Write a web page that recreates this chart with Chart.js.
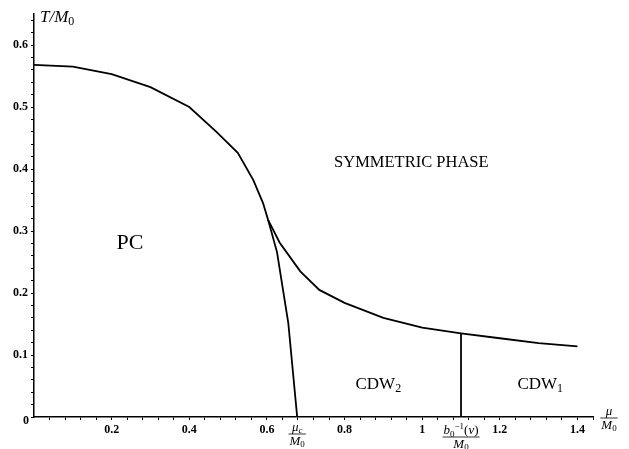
<!DOCTYPE html>
<html>
<head>
<meta charset="utf-8">
<script src="https://cdn.jsdelivr.net/npm/chart.js@4.4.0/dist/chart.umd.min.js"></script>
<style>
  html, body { margin: 0; padding: 0; background: #fff; }
  #wrap { width: 629px; height: 449px; }
</style>
</head>
<body>
<div id="wrap"><canvas id="phase" width="629" height="449"></canvas></div>
<script>
// Phase boundary: PC / symmetric, then symmetric / CDW
const upperMu = [0, 0.1, 0.2, 0.3, 0.4, 0.47, 0.525, 0.565, 0.59, 0.603, 0.633, 0.686, 0.735, 0.8, 0.9, 1.0, 1.1, 1.2, 1.3, 1.4];
const upperT  = [0.568, 0.565, 0.553, 0.532, 0.5, 0.46, 0.426, 0.382, 0.345, 0.318, 0.281, 0.235, 0.205, 0.184, 0.16, 0.144, 0.135, 0.127, 0.119, 0.114];
// PC / CDW2 boundary
const lowerMu = [0.603, 0.626, 0.655, 0.678];
const lowerT  = [0.318, 0.266, 0.152, 0];
// CDW2 / CDW1 boundary
const splitMu = [1.1, 1.1];
const splitT  = [0, 0.135];

const xMajor = [0.2, 0.4, 0.6, 0.8, 1, 1.2, 1.4];
const yMajor = [0.1, 0.2, 0.3, 0.4, 0.5, 0.6];

const pts = (xs, ys) => xs.map((x, i) => ({ x: x, y: ys[i] }));
const isMajor = (v, list) => list.some(m => Math.abs(m - v) < 1e-6);
const fmt = v => (Math.round(v * 10) / 10).toString();

const xTicks = [];
for (let i = 1; i <= 36; i++) xTicks.push(+(i * 0.04).toFixed(2));
const yTicks = [];
for (let i = 0; i <= 32; i++) yTicks.push(+(i * 0.02).toFixed(2));

const serif = '"Liberation Serif", "DejaVu Serif", serif';

// draws a run of text pieces: {t, f (font), dy}
function drawRun(ctx, parts, x, y, align) {
    let w = 0;
    parts.forEach(p => { ctx.font = p.f; w += ctx.measureText(p.t).width; });
    let cx = align === 'center' ? x - w / 2 : x;
    ctx.textAlign = 'left';
    parts.forEach(p => {
        ctx.font = p.f;
        ctx.fillText(p.t, cx, y + (p.dy || 0));
        cx += ctx.measureText(p.t).width;
    });
    return w;
}

function drawFrac(ctx, num, den, cx, barY) {
    ctx.textBaseline = 'alphabetic';
    const w1 = drawRun(ctx, num, cx, barY - 3, 'center');
    const w2 = drawRun(ctx, den, cx, barY + 11, 'center');
    const w = Math.max(w1, w2) + 2;
    ctx.beginPath();
    ctx.lineWidth = 0.8;
    ctx.moveTo(cx - w / 2, barY);
    ctx.lineTo(cx + w / 2, barY);
    ctx.stroke();
}

const labelsPlugin = {
    id: 'phaseLabels',
    afterDraw: (chart) => {
        const { ctx, chartArea, scales: { x, y } } = chart;
        ctx.save();
        ctx.fillStyle = '#000';
        ctx.strokeStyle = '#000';
        ctx.textBaseline = 'middle';

        ctx.textAlign = 'center';
        ctx.font = '22px ' + serif;
        ctx.fillText('PC', x.getPixelForValue(0.247), y.getPixelForValue(0.281));
        ctx.font = '16.5px ' + serif;
        ctx.fillText('SYMMETRIC PHASE', x.getPixelForValue(0.972), y.getPixelForValue(0.411));

        // shared origin label
        ctx.font = 'bold 12px ' + serif;
        ctx.fillText('0', chartArea.left - 8, chartArea.bottom + 4);

        ctx.textBaseline = 'alphabetic';
        const cdwY = y.getPixelForValue(0.055) + 6;
        drawRun(ctx, [{ t: 'CDW', f: '17px ' + serif }, { t: '2', f: '12px ' + serif, dy: 3 }],
            x.getPixelForValue(0.887), cdwY, 'center');
        drawRun(ctx, [{ t: 'CDW', f: '17px ' + serif }, { t: '1', f: '12px ' + serif, dy: 3 }],
            x.getPixelForValue(1.304), cdwY, 'center');

        // axis titles
        drawRun(ctx, [{ t: 'T/M', f: 'italic 17px ' + serif }, { t: '0', f: '12px ' + serif, dy: 3 }],
            chartArea.left + 6, chartArea.top + 8, 'left');

        const bot = chartArea.bottom;
        const it = 'italic 13px ' + serif;
        drawFrac(ctx, [{ t: 'μ', f: it }],
            [{ t: 'M', f: it }, { t: '0', f: '9px ' + serif, dy: 2 }],
            chartArea.right + 16, bot + 1);
        drawFrac(ctx, [{ t: 'μ', f: it }, { t: 'c', f: 'italic 9px ' + serif, dy: 2 }],
            [{ t: 'M', f: it }, { t: '0', f: '9px ' + serif, dy: 2 }],
            x.getPixelForValue(0.678), bot + 17);
        drawFrac(ctx, [{ t: 'b', f: it }, { t: '0', f: '9px ' + serif, dy: 3 },
                       { t: '−1', f: '9px ' + serif, dy: -5 }, { t: '(', f: '13px ' + serif },
                       { t: 'ν', f: it }, { t: ')', f: '13px ' + serif }],
            [{ t: 'M', f: it }, { t: '0', f: '9px ' + serif, dy: 2 }],
            x.getPixelForValue(1.1), bot + 20);
        ctx.restore();
    }
};

const lineStyle = {
    showLine: true,
    borderColor: '#000',
    borderWidth: 1.8,
    pointRadius: 0,
    tension: 0,
    fill: false
};

new Chart(document.getElementById('phase').getContext('2d'), {
    type: 'scatter',
    plugins: [labelsPlugin],
    data: {
        datasets: [
            Object.assign({ label: 'upper', data: pts(upperMu, upperT) }, lineStyle),
            Object.assign({ label: 'lower', data: pts(lowerMu, lowerT) }, lineStyle),
            Object.assign({ label: 'split', data: pts(splitMu, splitT) }, lineStyle)
        ]
    },
    options: {
        responsive: false,
        animation: false,
        devicePixelRatio: 1,
        layout: { padding: { top: 14, right: 36, left: 0, bottom: 0 } },
        plugins: { legend: { display: false }, tooltip: { enabled: false } },
        scales: {
            x: {
                type: 'linear',
                min: 0,
                max: 1.44,
                afterBuildTicks: (s) => { s.ticks = xTicks.map(v => ({ value: v })); },
                afterFit: (s) => { s.height = 32; },
                border: { display: true, color: '#000', width: 1.5 },
                grid: { drawOnChartArea: false, tickLength: 3, tickColor: '#000', tickWidth: 1 },
                ticks: {
                    autoSkip: false,
                    maxRotation: 0,
                    padding: 3,
                    color: '#000',
                    font: { family: serif, size: 12, weight: 'bold' },
                    callback: (v) => isMajor(v, xMajor) ? fmt(v) : ''
                }
            },
            y: {
                type: 'linear',
                min: 0,
                max: 0.65,
                afterBuildTicks: (s) => { s.ticks = yTicks.map(v => ({ value: v })); },
                afterFit: (s) => { s.width = 34; },
                border: { display: true, color: '#000', width: 1.5 },
                grid: { drawOnChartArea: false, tickLength: 3, tickColor: '#000', tickWidth: 1 },
                ticks: {
                    autoSkip: false,
                    padding: 3,
                    color: '#000',
                    font: { family: serif, size: 12, weight: 'bold' },
                    callback: (v) => isMajor(v, yMajor) ? fmt(v) : ''
                }
            }
        }
    }
});
</script>
</body>
</html>
